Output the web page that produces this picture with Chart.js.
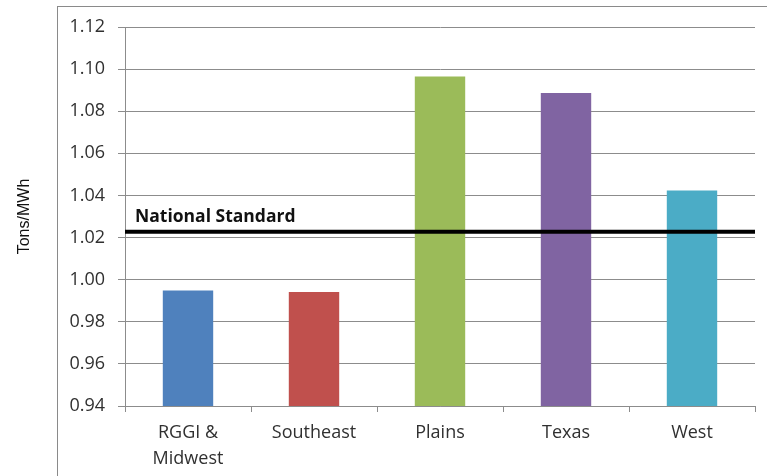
<!DOCTYPE html>
<html>
<head>
<meta charset="utf-8">
<script src="https://cdn.jsdelivr.net/npm/chart.js@4"></script>
<style>
  body { margin: 0; background: #fff; }
  #wrap { position: relative; width: 767px; height: 476px; overflow: hidden; }
  #frame { position: absolute; left: 57px; top: 6px; width: 800px; height: 500px;
           border-left: 1px solid #8a8a8a; border-top: 1px solid #8a8a8a; }
  #chart { position: absolute; left: 0; top: 0; }
</style>
</head>
<body>
<div id="wrap">
  <div id="frame"></div>
  <canvas id="chart" width="767" height="476"></canvas>
</div>
<script>
const regions = [['RGGI &', 'Midwest'], 'Southeast', 'Plains', 'Texas', 'West']
const rates = [0.9948, 0.9942, 1.0965, 1.0887, 1.0424]
const barColors = ['#4f81bd', '#c0504d', '#9bbb59', '#8064a2', '#4bacc6']
const nationalStandard = 1.0227
const yMin = 0.94
const yMax = 1.12
const yStep = 0.02

const gridGray = '#8c8c8c'
const textColor = '#303030'

// label over the national standard line
const standardLabel = {
    id: 'standardLabel',
    afterDatasetsDraw(chart) {
        const ctx = chart.ctx
        const y = chart.scales.y.getPixelForValue(nationalStandard)
        ctx.save()
        ctx.font = 'bold 17.5px "Open Sans"'
        ctx.fillStyle = '#111'
        ctx.textBaseline = 'alphabetic'
        ctx.fillText('National Standard', chart.chartArea.left + 10, y - 10)
        ctx.restore()
    }
}

new Chart(document.getElementById('chart'), {
    data: {
        labels: regions,
        datasets: [
            {
                type: 'line',
                xAxisID: 'x2',
                data: [{ x: 0, y: nationalStandard }, { x: 1, y: nationalStandard }],
                borderColor: '#000',
                borderWidth: 4,
                pointRadius: 0,
                order: 0
            },
            {
                type: 'bar',
                data: rates,
                backgroundColor: barColors,
                grouped: false,
                barPercentage: 0.4,
                categoryPercentage: 1,
                order: 1
            }
        ]
    },
    options: {
        responsive: false,
        animation: false,
        layout: { padding: { left: 15, top: 27, right: 12, bottom: 0 } },
        plugins: { legend: { display: false }, tooltip: { enabled: false } },
        scales: {
            x: {
                type: 'category',
                offset: true,
                grid: { offset: true, drawOnChartArea: false, tickLength: 6, color: gridGray },
                border: { color: gridGray },
                ticks: {
                    padding: 8,
                    maxRotation: 0,
                    color: textColor,
                    font: { family: 'Open Sans', size: 18, lineHeight: 1.45 }
                },
                afterFit: (scale) => { scale.height = 70 }
            },
            x2: { type: 'linear', display: false, min: 0, max: 1 },
            y: {
                min: yMin,
                max: yMax,
                grid: { color: gridGray, tickLength: 7 },
                border: { color: gridGray },
                ticks: {
                    stepSize: yStep,
                    padding: 13,
                    color: textColor,
                    font: { family: 'Open Sans', size: 18 },
                    callback: (v) => v.toFixed(2)
                },
                title: {
                    display: true,
                    text: 'Tons/MWh',
                    color: '#111',
                    padding: 0,
                    font: { family: '"Liberation Sans", Arial, sans-serif', size: 16 }
                },
                afterFit: (scale) => { scale.width = 110 }
            }
        }
    },
    plugins: [standardLabel]
})
</script>
</body>
</html>
